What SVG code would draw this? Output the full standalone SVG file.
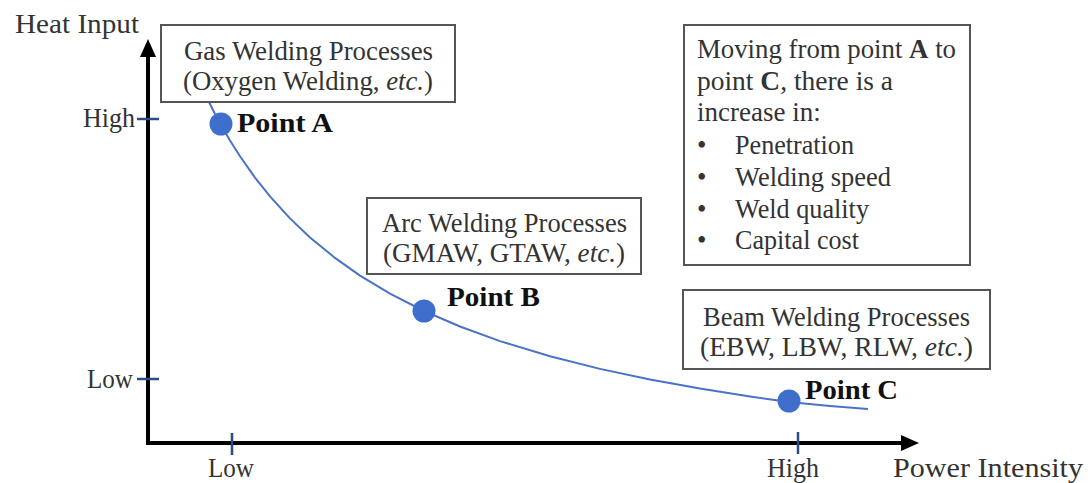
<svg xmlns="http://www.w3.org/2000/svg" width="1091" height="483" viewBox="0 0 1091 483">
  <style>
    .t { font-family: "Liberation Serif", "Times New Roman", serif; font-size: 27px; fill: #333333; }
    .pt { font-family: "Liberation Serif", "Times New Roman", serif; font-size: 28px; font-weight: bold; fill: #111111; }
    .box { fill: #ffffff; stroke: #555555; stroke-width: 2; }
    .axis { stroke: #000; stroke-width: 4; fill: none; }
    .tick { stroke: #2f4a86; stroke-width: 2.5; }
    .curve { stroke: #4a72c8; stroke-width: 2; fill: none; }
    .dot { fill: #3f6fcd; }
  </style>
  <defs>
    <marker id="arr" markerWidth="5" markerHeight="5" refX="0.5" refY="2.5" orient="auto" markerUnits="strokeWidth">
      <path d="M0,0.5 L4.5,2.5 L0,4.5 Z" fill="#000"/>
    </marker>
  </defs>

  <rect width="1091" height="483" fill="#ffffff"/>

  <g id="connectors">
    <path class="axis" d="M148,443 L148,55" marker-end="url(#arr)"/>
    <path class="axis" d="M146,443 L903,443" marker-end="url(#arr)"/>
    <line class="tick" x1="137" y1="119" x2="159" y2="119"/>
    <line class="tick" x1="137" y1="379" x2="159" y2="379"/>
    <line class="tick" x1="232" y1="433" x2="232" y2="455"/>
    <line class="tick" x1="798" y1="432" x2="798" y2="454"/>
    <polyline class="curve" points="209,102 215,114 221,125 230,140.5 240,156.3 255,177.6 270,196.4 290,218.4 310,237.4 335,257.9 360,275.6 390,293.7 424,311 460,326.5 500,341.1 550,356.3 600,368.9 650,379.5 700,388.6 750,396.5 789,402 830,406 868,409"/>
  </g>

  <g id="axis-labels">
    <text class="t" x="15" y="33" textLength="124" lengthAdjust="spacingAndGlyphs">Heat Input</text>
    <text class="t" x="83" y="127" textLength="52" lengthAdjust="spacingAndGlyphs">High</text>
    <text class="t" x="87" y="388" textLength="46" lengthAdjust="spacingAndGlyphs">Low</text>
    <text class="t" x="208" y="477" textLength="46" lengthAdjust="spacingAndGlyphs">Low</text>
    <text class="t" x="767" y="477" textLength="52" lengthAdjust="spacingAndGlyphs">High</text>
    <text class="t" x="893" y="477" textLength="190" lengthAdjust="spacingAndGlyphs">Power Intensity</text>
  </g>

  <g id="gas-box">
    <rect class="box" x="161" y="25" width="294" height="77"/>
    <text class="t" x="184" y="60" textLength="249" lengthAdjust="spacingAndGlyphs">Gas Welding Processes</text>
    <text class="t" x="183" y="90" textLength="250" lengthAdjust="spacingAndGlyphs">(Oxygen Welding, <tspan font-style="italic">etc.</tspan>)</text>
  </g>

  <g id="arc-box">
    <rect class="box" x="367" y="198" width="274" height="76"/>
    <text class="t" x="382" y="232" textLength="245" lengthAdjust="spacingAndGlyphs">Arc Welding Processes</text>
    <text class="t" x="383" y="262" textLength="242" lengthAdjust="spacingAndGlyphs">(GMAW, GTAW, <tspan font-style="italic">etc.</tspan>)</text>
  </g>

  <g id="beam-box">
    <rect class="box" x="683" y="290" width="307" height="79"/>
    <text class="t" x="703" y="326" textLength="267" lengthAdjust="spacingAndGlyphs">Beam Welding Processes</text>
    <text class="t" x="700" y="356" textLength="273" lengthAdjust="spacingAndGlyphs">(EBW, LBW, RLW, <tspan font-style="italic">etc.</tspan>)</text>
  </g>

  <g id="note-box">
    <rect class="box" x="684" y="25" width="286" height="240"/>
    <text class="t" x="697" y="58" textLength="259" lengthAdjust="spacingAndGlyphs">Moving from point <tspan font-weight="bold">A</tspan> to</text>
    <text class="t" x="697" y="90" textLength="196" lengthAdjust="spacingAndGlyphs">point <tspan font-weight="bold">C</tspan>, there is a</text>
    <text class="t" x="697" y="121">increase in:</text>
    <text class="t" x="697" y="154">•</text>
    <text class="t" x="735" y="154" textLength="119" lengthAdjust="spacingAndGlyphs">Penetration</text>
    <text class="t" x="697" y="186">•</text>
    <text class="t" x="735" y="186" textLength="156" lengthAdjust="spacingAndGlyphs">Welding speed</text>
    <text class="t" x="697" y="218">•</text>
    <text class="t" x="735" y="218" textLength="134" lengthAdjust="spacingAndGlyphs">Weld quality</text>
    <text class="t" x="697" y="249">•</text>
    <text class="t" x="735" y="249" textLength="124" lengthAdjust="spacingAndGlyphs">Capital cost</text>
  </g>

  <g id="point-a">
    <circle class="dot" cx="221" cy="124" r="11.5"/>
    <text class="pt" x="237" y="132" textLength="96" lengthAdjust="spacingAndGlyphs">Point A</text>
  </g>
  <g id="point-b">
    <circle class="dot" cx="424" cy="311" r="11.5"/>
    <text class="pt" x="447" y="306" textLength="93" lengthAdjust="spacingAndGlyphs">Point B</text>
  </g>
  <g id="point-c">
    <circle class="dot" cx="789" cy="401" r="11.5"/>
    <text class="pt" x="805" y="399" textLength="93" lengthAdjust="spacingAndGlyphs">Point C</text>
  </g>
</svg>
